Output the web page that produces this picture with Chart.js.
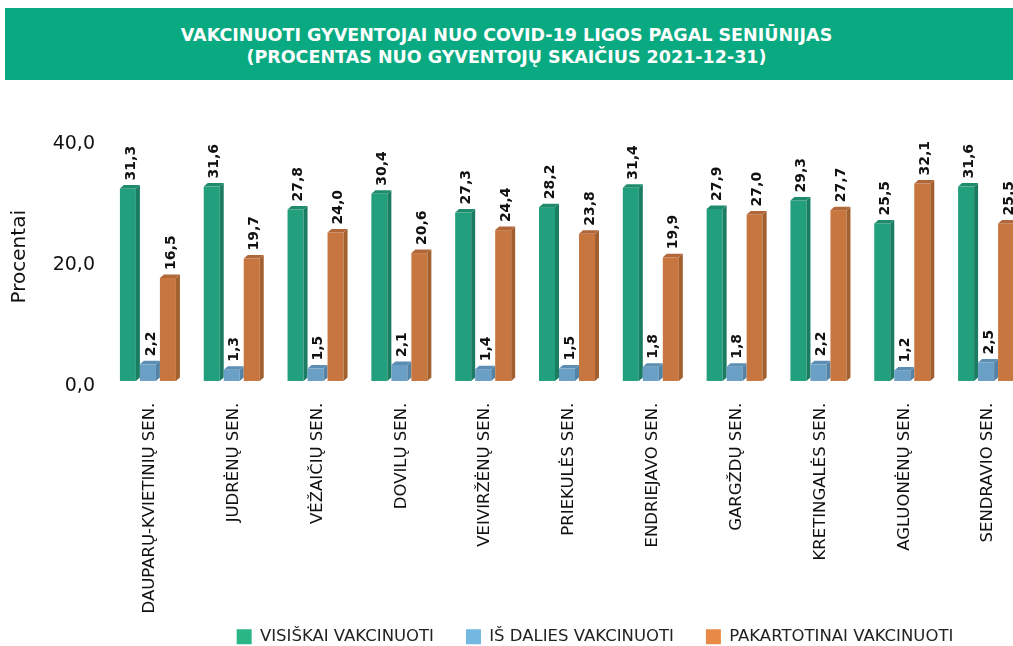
<!DOCTYPE html>
<html lang="lt">
<head>
<meta charset="utf-8">
<title>Vakcinuoti gyventojai nuo COVID-19 ligos pagal seniūnijas</title>
<script src="https://cdn.jsdelivr.net/npm/chart.js@4.4.1/dist/chart.umd.min.js"></script>
<style>
  html, body { margin: 0; padding: 0; background: #ffffff; overflow: hidden; }
  #page { position: relative; width: 1013px; height: 646px; overflow: hidden; background: #ffffff; }
  #plot { position: absolute; left: 0; top: 0; }
  #banner {
    position: absolute; left: 5px; top: 8px; width: 1013px; height: 72px;
    background: #09aa81; color: #ffffff; z-index: 2;
    font-family: "DejaVu Sans", sans-serif; font-weight: bold; font-size: 17.5px;
    line-height: 21.5px; text-align: center; box-sizing: border-box; padding-top: 17px;
  }
  #banner div { width: 1013px; margin-left: -5px; }
</style>
</head>
<body>
<div id="page">
  <div id="banner">
    <div>VAKCINUOTI GYVENTOJAI NUO COVID-19 LIGOS PAGAL SENIŪNIJAS</div>
    <div>(PROCENTAS NUO GYVENTOJŲ SKAIČIUS 2021-12-31)</div>
  </div>
  <canvas id="plot" width="1190" height="655"></canvas>
</div>
<script>
// Seniūnijos (categories) and the three vaccination series, in percent
const categories = [
  'DAUPARŲ-KVIETINIŲ SEN.', 'JUDRĖNŲ SEN.', 'VĖŽAIČIŲ SEN.', 'DOVILŲ SEN.',
  'VEIVIRŽĖNŲ SEN.', 'PRIEKULĖS SEN.', 'ENDRIEJAVO SEN.', 'GARGŽDŲ SEN.',
  'KRETINGALĖS SEN.', 'AGLUONĖNŲ SEN.', 'SENDRAVIO SEN.'
];
const fullyVaccinated   = [31.3, 31.6, 27.8, 30.4, 27.3, 28.2, 31.4, 27.9, 29.3, 25.5, 31.6];
const partlyVaccinated  = [2.2, 1.3, 1.5, 2.1, 1.4, 1.5, 1.8, 1.8, 2.2, 1.2, 2.5];
const boosterVaccinated = [16.5, 19.7, 24.0, 20.6, 24.4, 23.8, 19.9, 27.0, 27.7, 32.1, 25.5];
const seriesNames = ['VISIŠKAI VAKCINUOTI', 'IŠ DALIES VAKCINUOTI', 'PAKARTOTINAI VAKCINUOTI'];
const yTicks = [0, 20, 40];

// Bar faces (front, side, top) and legend swatches
const faceColors   = ['#22a07d', '#6a9fc6', '#c8763f'];
const sideColors   = ['#1a7c60', '#5483a5', '#a3602f'];
const topColors    = ['#1e8c6c', '#5c8eb4', '#b2673a'];
const legendColors = ['#2bb685', '#73b8e0', '#e88a46'];

const fmt = v => Number(v).toFixed(1).replace('.', ',');
const FONT = '"DejaVu Sans", sans-serif';

// Draws each bar as a small 3D column (front, right side, top) plus its rotated value label
const bars3d = {
  id: 'bars3d',
  afterDatasetsDraw(chart) {
    const ctx = chart.ctx;
    const DX = 4, DY = 3.5, FLOOR = 3.3;
    const metas = chart.data.datasets.map((ds, di) => chart.getDatasetMeta(di));
    metas.forEach((meta, di) => {
      meta.data.forEach(el => {
        const left = el.x - el.width / 2, right = el.x + el.width / 2, fr = right - DX;
        const top = el.y, bottom = el.base + FLOOR;
        ctx.save();
        ctx.fillStyle = faceColors[di];
        ctx.fillRect(left, top, fr - left, bottom - top);
        ctx.fillStyle = sideColors[di];
        ctx.beginPath();
        ctx.moveTo(fr, top); ctx.lineTo(right, top - DY);
        ctx.lineTo(right, bottom - DY); ctx.lineTo(fr, bottom);
        ctx.closePath(); ctx.fill();
        ctx.fillStyle = topColors[di];
        ctx.beginPath();
        ctx.moveTo(left, top); ctx.lineTo(fr, top);
        ctx.lineTo(right, top - DY); ctx.lineTo(left + DX, top - DY);
        ctx.closePath(); ctx.fill();
        ctx.restore();
      });
    });
    metas.forEach((meta, di) => {
      const values = chart.data.datasets[di].data;
      meta.data.forEach((el, i) => {
        ctx.save();
        ctx.translate(el.x + 1, el.y - 8);
        ctx.rotate(-Math.PI / 2);
        ctx.font = 'bold 14px ' + FONT;
        ctx.fillStyle = '#111111';
        ctx.textAlign = 'left';
        ctx.textBaseline = 'middle';
        ctx.fillText(fmt(values[i]), 0, 0);
        ctx.restore();
      });
    });
  }
};

const seriesValues = [fullyVaccinated, partlyVaccinated, boosterVaccinated];

new Chart(document.getElementById('plot'), {
  type: 'bar',
  data: {
    labels: categories,
    datasets: seriesValues.map((vals, i) => ({
      label: seriesNames[i],
      data: vals,
      backgroundColor: 'rgba(0,0,0,0)',
      borderWidth: 0,
      categoryPercentage: 0.716,
      barPercentage: 1.0
    }))
  },
  options: {
    responsive: false,
    animation: false,
    events: [],
    layout: { padding: { top: 135.8, left: 0, right: 0, bottom: 0 } },
    scales: {
      x: {
        grid: { display: false, drawTicks: false },
        border: { display: false },
        ticks: {
          autoSkip: false, minRotation: 90, maxRotation: 90, padding: 25,
          color: '#111111', font: { family: FONT, size: 16.5 }
        },
        afterFit: s => {
          s.height = 218.85;
          // long category names may run slightly past the axis box
          s._computeLabelArea = () => null;
        }
      },
      y: {
        min: 0, max: 40,
        afterBuildTicks: s => { s.ticks = yTicks.map(v => ({ value: v })); },
        grid: { display: false, drawTicks: false },
        border: { display: false },
        ticks: {
          padding: 13, labelOffset: 8,
          color: '#111111', font: { family: FONT, size: 19 },
          callback: v => fmt(v)
        },
        title: {
          display: true, text: 'Procentai', color: '#111111',
          font: { family: FONT, size: 20 }, padding: { top: 8, bottom: 0 }
        },
        afterFit: s => { s.width = 108; }
      },
      yRight: {
        type: 'linear', position: 'right', display: true,
        grid: { display: false, drawTicks: false },
        border: { display: false },
        ticks: { display: false },
        afterFit: s => { s.width = 160; }
      }
    },
    plugins: {
      tooltip: { enabled: false },
      legend: {
        position: 'bottom',
        labels: {
          boxWidth: 15, boxHeight: 15, padding: 32,
          color: '#222222', font: { family: FONT, size: 16.5 },
          generateLabels: chart => Chart.defaults.plugins.legend.labels.generateLabels(chart)
            .map((item, i) => Object.assign(item, {
              fillStyle: legendColors[i], strokeStyle: legendColors[i], lineWidth: 0
            }))
        }
      }
    }
  },
  plugins: [bars3d]
});
</script>
</body>
</html>
